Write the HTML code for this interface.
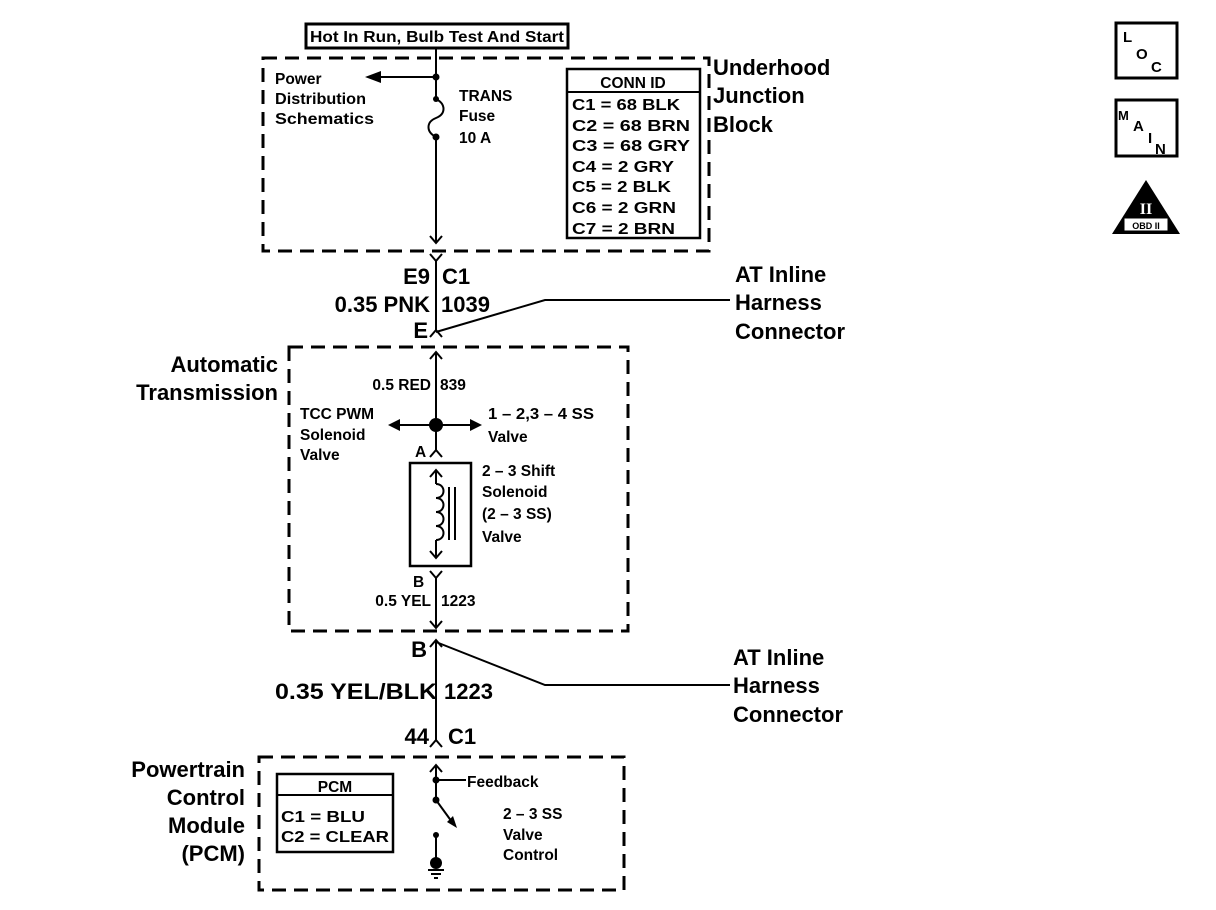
<!DOCTYPE html>
<html><head><meta charset="utf-8"><style>
html,body{margin:0;padding:0;background:#fff;}
svg{display:block;font-family:"Liberation Sans",Arial,sans-serif;}
</style></head><body>
<svg width="1216" height="910" viewBox="0 0 1216 910" xmlns="http://www.w3.org/2000/svg">
<g fill="none" stroke="#000" stroke-width="3" stroke-dasharray="14,8">
<rect x="263" y="58" width="446" height="193"/>
<rect x="289" y="347" width="339" height="284"/>
<rect x="259" y="757" width="365" height="133"/>
</g>
<g stroke="#000" stroke-width="2" fill="none">
<rect x="306" y="24" width="262" height="24" stroke-width="3"/>
<line x1="436" y1="48" x2="436" y2="99"/>
<path d="M436,99 C446,104 446,114 436,118 C426,122 426,132 436,137"/>
<line x1="436" y1="137" x2="436" y2="243"/>
<path d="M430,236 L436,243 L442,236"/>
<line x1="436" y1="77" x2="376" y2="77"/>
<rect x="567" y="69" width="133" height="169" stroke-width="2.5"/>
<line x1="567" y1="92" x2="700" y2="92"/>
<path d="M430,254 L436,261 L442,254"/>
<line x1="436" y1="261" x2="436" y2="330"/>
<path d="M430,337 L436,330 L442,337"/>
<path d="M436,332 L545,300 L730,300"/>
<line x1="436" y1="352" x2="436" y2="450"/>
<path d="M430,359 L436,352 L442,359"/>
<line x1="436" y1="425" x2="398" y2="425"/>
<line x1="436" y1="425" x2="472" y2="425"/>
<path d="M430,457 L436,450 L442,457"/>
<rect x="410" y="463" width="61" height="103" stroke-width="2.5"/>
<line x1="436" y1="470" x2="436" y2="484"/>
<path d="M430,477 L436,470 L442,477"/>
<path d="M436,484 C446,484 446,498 436,498 C446,498 446,512 436,512 C446,512 446,526 436,526 C446,526 446,540 436,540"/>
<line x1="436" y1="540" x2="436" y2="558"/>
<path d="M430,551 L436,558 L442,551"/>
<line x1="449" y1="487" x2="449" y2="540"/>
<line x1="455" y1="487" x2="455" y2="540"/>
<path d="M430,571 L436,578 L442,571"/>
<line x1="436" y1="578" x2="436" y2="628"/>
<path d="M430,621 L436,628 L442,621"/>
<path d="M430,647 L436,640 L442,647"/>
<line x1="436" y1="640" x2="436" y2="740"/>
<path d="M436,642 L545,685 L730,685"/>
<path d="M430,747 L436,740 L442,747"/>
<rect x="277" y="774" width="116" height="78" stroke-width="2.5"/>
<line x1="277" y1="795" x2="393" y2="795"/>
<line x1="436" y1="765" x2="436" y2="800"/>
<path d="M430,772 L436,765 L442,772"/>
<line x1="436" y1="780" x2="466" y2="780"/>
<line x1="436" y1="800" x2="452" y2="822"/>
<line x1="436" y1="835" x2="436" y2="860"/>
<line x1="428" y1="870" x2="444" y2="870"/>
<line x1="431" y1="874" x2="441" y2="874"/>
<line x1="434" y1="878" x2="438" y2="878"/>
<rect x="1116" y="23" width="61" height="55" stroke-width="3"/>
<rect x="1116" y="100" width="61" height="56" stroke-width="3"/>
</g>
<g fill="#000">
<circle cx="436" cy="77" r="3.5"/><circle cx="436" cy="99" r="3"/><circle cx="436" cy="137" r="3.5"/>
<path d="M365,77 L381,71 L381,83 z"/>
<circle cx="436" cy="425" r="7"/>
<path d="M388,425 L400,419 L400,431 z"/>
<path d="M482,425 L470,419 L470,431 z"/>
<circle cx="436" cy="780" r="3.5"/><circle cx="436" cy="800" r="3.5"/><circle cx="436" cy="835" r="3"/>
<path d="M457,828 L447,822 L453,816 z"/>
<circle cx="436" cy="863" r="6"/>
<path d="M1146,180 L1180,234 L1112,234 z"/>
</g>
<g font-size="15.5" font-weight="bold" fill="#000">
<text x="310" y="42" textLength="254" lengthAdjust="spacingAndGlyphs">Hot In Run, Bulb Test And Start</text>
<text x="275" y="84">Power</text>
<text x="275" y="104" textLength="91" lengthAdjust="spacingAndGlyphs">Distribution</text>
<text x="275" y="124" textLength="99" lengthAdjust="spacingAndGlyphs">Schematics</text>
<text x="459" y="101">TRANS</text>
<text x="459" y="121">Fuse</text>
<text x="459" y="143">10 A</text>
<text x="633" y="88" text-anchor="middle">CONN ID</text>
<text x="572" y="110" textLength="108" lengthAdjust="spacingAndGlyphs">C1 = 68 BLK</text>
<text x="572" y="131" textLength="118" lengthAdjust="spacingAndGlyphs">C2 = 68 BRN</text>
<text x="572" y="151" textLength="118" lengthAdjust="spacingAndGlyphs">C3 = 68 GRY</text>
<text x="572" y="172" textLength="102" lengthAdjust="spacingAndGlyphs">C4 = 2 GRY</text>
<text x="572" y="192" textLength="99" lengthAdjust="spacingAndGlyphs">C5 = 2 BLK</text>
<text x="572" y="213" textLength="104" lengthAdjust="spacingAndGlyphs">C6 = 2 GRN</text>
<text x="572" y="234" textLength="103" lengthAdjust="spacingAndGlyphs">C7 = 2 BRN</text>
<text x="431" y="390" text-anchor="end">0.5 RED</text>
<text x="440" y="390">839</text>
<text x="300" y="419">TCC PWM</text>
<text x="300" y="440">Solenoid</text>
<text x="300" y="460">Valve</text>
<text x="488" y="419" textLength="106" lengthAdjust="spacingAndGlyphs">1 – 2,3 – 4 SS</text>
<text x="488" y="442">Valve</text>
<text x="415" y="457">A</text>
<text x="482" y="476">2 – 3 Shift</text>
<text x="482" y="497">Solenoid</text>
<text x="482" y="519">(2 – 3 SS)</text>
<text x="482" y="542">Valve</text>
<text x="413" y="587">B</text>
<text x="431" y="606" text-anchor="end">0.5 YEL</text>
<text x="441" y="606">1223</text>
<text x="335" y="792" text-anchor="middle">PCM</text>
<text x="281" y="822" textLength="84" lengthAdjust="spacingAndGlyphs">C1 = BLU</text>
<text x="281" y="842" textLength="108" lengthAdjust="spacingAndGlyphs">C2 = CLEAR</text>
<text x="467" y="787">Feedback</text>
<text x="503" y="819">2 – 3 SS</text>
<text x="503" y="840">Valve</text>
<text x="503" y="860">Control</text>
</g>
<g font-size="22" font-weight="bold" fill="#000">
<text x="713" y="75">Underhood</text>
<text x="713" y="103">Junction</text>
<text x="713" y="132">Block</text>
<text x="430" y="284" text-anchor="end">E9</text>
<text x="442" y="284">C1</text>
<text x="430" y="312" text-anchor="end">0.35 PNK</text>
<text x="441" y="312">1039</text>
<text x="428" y="338" text-anchor="end">E</text>
<text x="735" y="282">AT Inline</text>
<text x="735" y="310">Harness</text>
<text x="735" y="339">Connector</text>
<text x="278" y="372" text-anchor="end">Automatic</text>
<text x="278" y="400" text-anchor="end">Transmission</text>
<text x="427" y="657" text-anchor="end">B</text>
<text x="733" y="665">AT Inline</text>
<text x="733" y="693">Harness</text>
<text x="733" y="722">Connector</text>
<text x="437" y="699" text-anchor="end" textLength="162" lengthAdjust="spacingAndGlyphs">0.35 YEL/BLK</text>
<text x="444" y="699">1223</text>
<text x="429" y="744" text-anchor="end">44</text>
<text x="448" y="744">C1</text>
<text x="245" y="777" text-anchor="end">Powertrain</text>
<text x="245" y="805" text-anchor="end">Control</text>
<text x="245" y="833" text-anchor="end">Module</text>
<text x="245" y="861" text-anchor="end">(PCM)</text>
</g>
<g font-size="15" font-weight="bold" fill="#000">
<text x="1123" y="42">L</text><text x="1136" y="59">O</text><text x="1151" y="72">C</text>
<text x="1118" y="120" font-size="13">M</text><text x="1133" y="131">A</text><text x="1148" y="143">I</text><text x="1155" y="154">N</text>
</g>
<rect x="1124" y="218" width="44" height="13" fill="#fff" stroke="#000"/>
<text x="1146" y="229" font-size="9" font-weight="bold" text-anchor="middle" fill="#000">OBD II</text>
<text x="1146" y="214" font-size="16" font-weight="bold" text-anchor="middle" fill="#fff" font-family="Liberation Serif,serif">II</text>
</svg>
</body></html>
